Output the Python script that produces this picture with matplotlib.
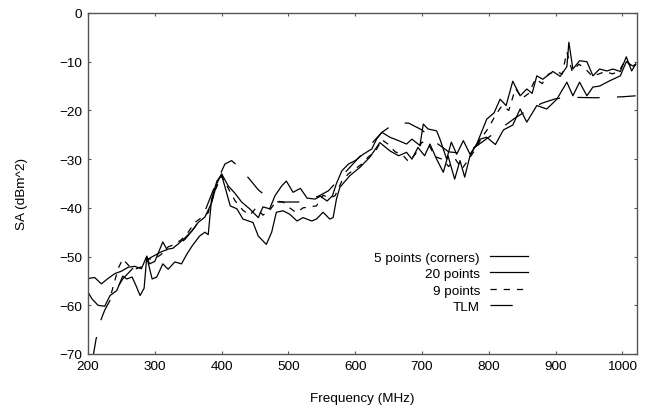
import matplotlib
matplotlib.use("Agg")
import matplotlib.pyplot as plt

plt.rcParams['font.family'] = ['Liberation Sans', 'DejaVu Sans']
plt.rcParams['lines.scale_dashes'] = False

# ---- data ----
freq_5pt = [200, 210, 220, 230, 240, 250, 260, 270, 280, 288, 292, 300, 312, 318, 327,
            335, 345, 355, 365, 375, 385, 393, 400, 410, 420, 430, 442, 455, 462, 472,
            480, 490, 497, 507, 518, 528, 540, 548, 558, 566, 572, 580, 590, 600, 612,
            625, 632, 640, 652, 665, 677, 685, 697, 702, 709, 722, 727, 737, 744, 752,
            762, 772, 782, 797, 808, 817, 826, 836, 847, 857, 865, 872, 881, 896, 907,
            917, 920, 926, 936, 947, 956, 966, 977, 986, 997, 1006, 1014, 1020]
sa_5pt = [-54.5, -54.3, -55.6, -54.5, -53.5, -53.0, -52.2, -52.0, -52.5, -49.9, -51.5, -51.0, -47.0, -48.5, -48.3,
          -47.4, -46.2, -44.8, -43.0, -41.9, -39.0, -35.0, -33.0, -35.5, -37.0, -38.8, -40.2, -42.0, -39.8, -40.2,
          -37.5, -35.5, -34.5, -36.8, -36.0, -38.0, -38.2, -37.6, -38.6, -37.5, -35.0, -32.4, -31.0, -30.3, -29.0,
          -27.9, -25.9, -24.5, -25.5, -26.2, -26.9, -25.9, -27.2, -22.8, -23.8, -24.2, -25.9, -30.0, -26.5, -29.0,
          -26.2, -29.0, -26.9, -21.8, -20.5, -17.7, -19.0, -14.0, -17.0, -15.6, -16.5, -12.9, -13.6, -12.0, -13.0,
          -11.0, -6.0, -11.5, -9.8, -10.0, -12.9, -11.5, -11.9, -11.5, -12.0, -9.0, -11.9, -10.5]

freq_20pt = [200, 206, 215, 225, 233, 243, 252, 258, 266, 272, 278, 284, 288, 296, 303,
             312, 320, 330, 340, 348, 356, 367, 375, 380, 385, 393, 400, 413, 423, 432,
             447, 455, 467, 475, 482, 492, 502, 513, 522, 535, 542, 552, 562, 567, 572,
             577, 592, 607, 622, 637, 652, 665, 677, 685, 694, 704, 712, 722, 732, 739,
             749, 757, 764, 772, 779, 787, 797, 810, 822, 836, 847, 857, 872, 887, 902,
             917, 926, 936, 947, 956, 966, 977, 986, 997, 1006, 1016, 1020]
sa_20pt = [-57.3, -58.7, -60.0, -60.2, -58.0, -57.0, -54.0, -54.6, -54.2, -56.0, -58.0, -56.5, -50.1, -54.6, -54.2,
           -51.5, -52.6, -51.1, -51.5, -49.5, -47.8, -45.8, -45.0, -45.5, -38.2, -34.5, -33.2, -39.6, -40.2, -42.3,
           -43.0, -45.8, -47.5, -45.0, -40.9, -40.6, -41.3, -42.7, -42.0, -42.7, -42.3, -40.9, -42.3, -42.0, -38.2,
           -35.8, -33.4, -31.7, -29.6, -26.6, -28.3, -29.3, -28.6, -30.0, -27.6, -29.3, -26.9, -30.0, -32.7, -29.3,
           -34.1, -30.3, -33.7, -29.3, -27.6, -25.9, -25.5, -27.0, -24.0, -23.0, -19.7, -22.4, -19.0, -19.7, -17.7,
           -14.2, -17.0, -14.2, -17.0, -15.2, -15.0, -14.2, -13.6, -12.9, -10.0, -10.9, -10.5]

freq_9pt = [235, 245, 252, 262, 272, 282, 290, 300, 310, 320, 330, 340, 350, 360, 370,
            380, 390, 400, 410, 420, 432, 442, 452, 462, 472, 482, 492, 502, 512, 522,
            532, 542, 552, 562, 570, 580, 590, 600, 610, 620, 630, 640, 650, 660, 670,
            680, 690, 700, 710, 720, 730, 740, 750, 760, 770, 780, 790, 800, 810, 820,
            830, 840, 850, 860, 870, 880, 890, 900, 910, 917, 925, 935, 945, 955, 965,
            975, 985, 995, 1005, 1015, 1020]
sa_9pt = [-57.5, -52.5, -50.5, -52.0, -52.5, -52.0, -50.5, -50.5, -49.5, -48.0, -47.5, -46.5, -45.0, -43.0, -42.0,
          -41.0, -36.5, -33.5, -36.0, -38.5, -40.5, -41.5, -40.0, -41.5, -40.5, -38.6, -38.8, -40.0, -41.0, -40.0,
          -39.8, -39.6, -37.4, -38.0, -37.5, -34.5, -33.0, -32.0, -31.0, -29.5, -28.5, -26.0, -27.0, -28.5, -29.0,
          -30.5, -29.0, -26.5, -27.0, -29.5, -30.0, -31.5, -30.0, -32.0, -30.0, -28.0, -25.5, -23.5, -21.0, -19.0,
          -20.0, -15.5, -17.5, -16.5, -13.5, -14.5, -12.5, -12.0, -12.5, -8.0, -12.0, -10.5, -11.5, -13.0, -12.5,
          -12.0, -12.5, -12.0, -9.5, -11.5, -10.5]

freq_tlm = [207, 212, 218, 225, 237, 252, 270, 290, 310, 330, 345, 360, 375, 390, 405,
            415, 425, 440, 455, 470, 485, 500, 515, 530, 545, 560, 580, 600, 620, 640,
            660, 680, 700, 720, 740, 760, 780, 800, 820, 840, 860, 880, 900, 920, 960,
            1000, 1020]
sa_tlm = [-71.0, -67.0, -63.5, -61.0, -58.0, -54.6, -52.0, -50.5, -49.0, -48.0, -46.5, -44.0, -40.7, -35.5, -31.0,
          -30.3, -31.5, -33.8, -36.3, -38.0, -38.8, -38.8, -38.8, -38.3, -37.6, -36.5, -33.5, -30.5, -27.5, -24.5,
          -22.6, -22.6, -24.0, -26.5, -28.5, -28.8, -27.5, -25.5, -23.5, -21.5, -19.8, -18.5, -17.6, -17.3, -17.4,
          -17.2, -17.0]

labels = ["5 points (corners)", "20 points", "9 points", "TLM"]
x_ticks = [200, 300, 400, 500, 600, 700, 800, 900, 1000]
y_ticks = [0, -10, -20, -30, -40, -50, -60, -70]

# ---- figure ----
fig = plt.figure(figsize=(6.5, 4.1), dpi=100)
ax = fig.add_axes([88 / 650, 55 / 410, 549 / 650, 341 / 410])

lw = 0.9
ax.plot(freq_5pt, sa_5pt, color='black', lw=lw, label=labels[0])
ax.plot(freq_20pt, sa_20pt, color='black', lw=lw, label=labels[1])
ax.plot(freq_9pt, sa_9pt, color='black', lw=lw, dashes=(4.5, 5), label=labels[2])
ax.plot(freq_tlm, sa_tlm, color='black', lw=lw, dashes=(16, 12.5), label=labels[3])

ax.set_xlim(200, 1022)
ax.set_ylim(-70, 0)
ax.set_xticks(x_ticks)
ax.set_yticks(y_ticks)
fs = 9.7
ax.tick_params(direction='in', length=2.5, width=0.8, top=True, right=True,
               labelsize=fs, pad=4, color='#555555')
for s in ax.spines.values():
    s.set_color('#555555')
    s.set_linewidth(1.0)

ax.set_xlabel("Frequency (MHz)", fontsize=fs)
ax.set_ylabel("SA (dBm^2)", fontsize=fs)
ax.xaxis.set_label_coords(0.5, -0.111)
ax.yaxis.set_label_coords(-0.109, 0.472)

leg = ax.legend(loc='center right', bbox_to_anchor=(0.801, 0.211), frameon=False,
                markerfirst=False, fontsize=fs, handlelength=2.8, handletextpad=0.75,
                labelspacing=0.3, borderpad=0, borderaxespad=0)

fig.savefig("out.png", dpi=100)
